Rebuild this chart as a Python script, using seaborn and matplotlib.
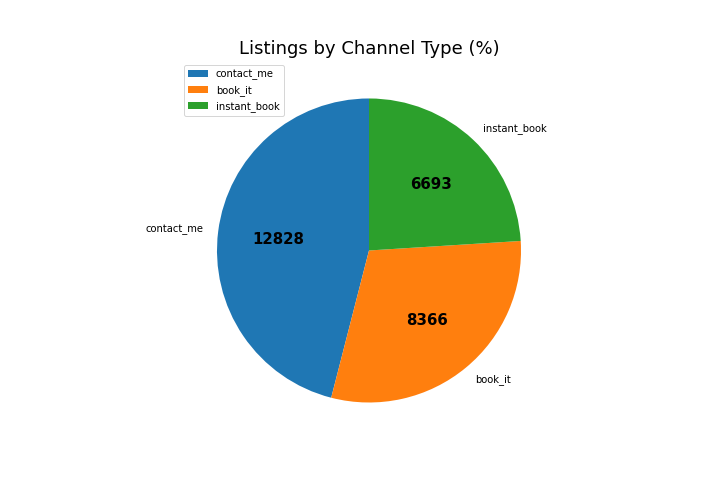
import matplotlib

matplotlib.use("Agg")
import matplotlib.pyplot as plt
import seaborn as sns

channels = ["contact_me", "book_it", "instant_book"]
counts = [12828, 8366, 6693]


def main():
    sns.set_style("white")
    plt.rcParams["text.color"] = "black"
    colors = sns.color_palette("tab10", 3)
    total = sum(counts)

    fig, ax = plt.subplots(figsize=(10, 7), dpi=72)
    fig.subplots_adjust(bottom=0.126, top=0.88)
    wedges, texts, autotexts = ax.pie(
        counts,
        labels=channels,
        colors=colors,
        startangle=90,
        autopct=lambda p: f"{round(p * total / 100)}",
        textprops={"fontsize": 10, "color": "black"},
        wedgeprops={"linewidth": 0},
    )
    for t in autotexts:
        t.set_fontsize(15)
        t.set_fontweight("bold")
    ax.set_aspect("equal", adjustable="box")
    ax.set_title("Listings by Channel Type (%)", fontsize=18, color="black")
    ax.legend(wedges, channels, loc="upper left", fontsize=10)

    plt.savefig("out.png")


if __name__ == "__main__":
    main()
